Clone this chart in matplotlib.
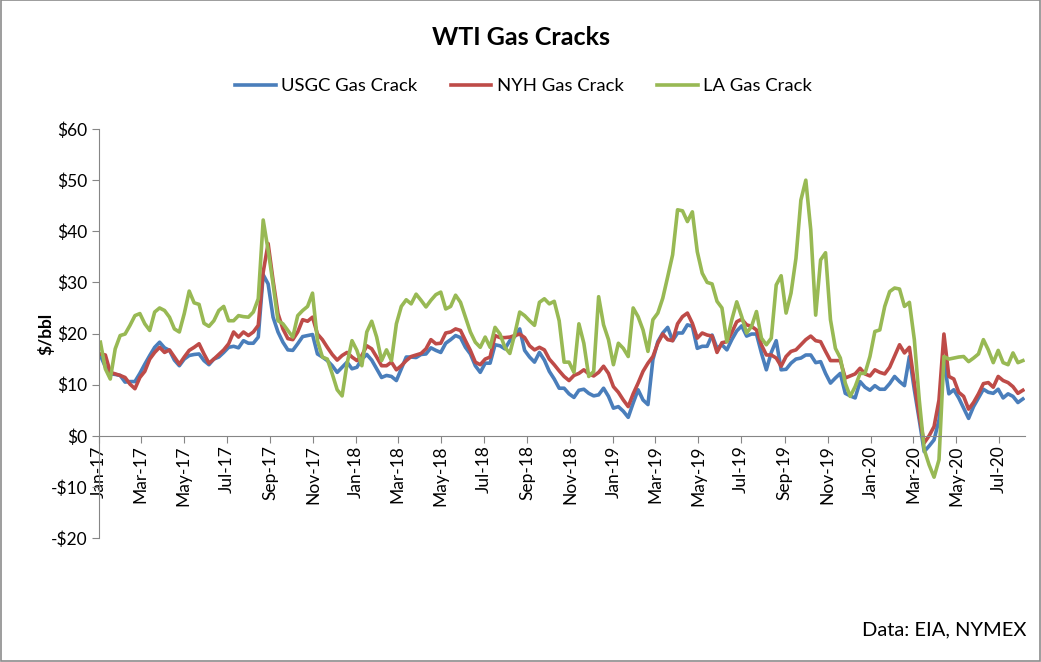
import matplotlib
matplotlib.use("Agg")
import matplotlib.pyplot as plt
import matplotlib.dates as mdates
import matplotlib.ticker as mticker
import pandas as pd

plt.rcParams['font.family'] = ['Lato', 'DejaVu Sans']

start_date = "2017-01-03"

usgc = [15.7, 13.5, 12.1, 12.0, 11.8, 10.5, 10.6, 10.6, 12.2, 14.0, 15.7, 17.3, 18.3, 17.2, 16.7, 14.8, 13.7, 15.0, 15.7, 15.9,
        16.0, 14.7, 13.9, 15.0, 15.4, 16.3, 17.3, 17.5, 17.2, 18.6, 18.1, 18.1, 19.3, 31.5,
        29.7, 23.2, 20.3, 18.3, 16.8, 16.7, 18.0, 19.4, 19.6, 19.8, 16.0, 15.4, 14.7, 13.7, 12.4, 13.4, 14.4, 13.1, 13.4, 15.0,
        15.9, 14.8, 13.1, 11.4, 11.8, 11.6, 10.8, 13.1, 15.4, 15.4, 15.3, 15.9, 16.0,
        17.2, 16.7, 16.3, 18.1, 18.8, 19.6, 19.2, 17.3, 16.0, 13.7, 12.4, 14.2, 14.2, 17.8, 17.6, 17.0, 18.6, 19.4, 20.9, 16.7,
        15.4, 14.4, 16.3, 14.8, 12.6, 11.1, 9.3, 9.3, 8.2, 7.5,
        8.9, 9.1, 8.3, 7.8, 8.0, 9.3, 7.7, 5.4, 5.7, 4.8, 3.6, 6.4, 9.0, 7.0, 6.1, 14.9, 18.4, 20.1, 21.2, 18.6, 20.1, 20.1,
        21.7, 21.4, 17.1, 17.5, 17.5, 19.7, 17.1, 17.8, 16.8, 18.8,
        20.5, 21.5, 19.5, 19.9, 19.9, 16.2, 12.9, 16.3, 18.6, 12.9, 13.0, 14.2, 15.0, 15.2, 15.8, 15.8, 14.3, 14.5, 12.2, 10.3,
        11.3, 12.2, 8.3, 7.8, 7.4, 10.6, 9.5, 8.9, 9.8,
        9.1, 9.1, 10.2, 11.6, 10.6, 9.8, 15.5, 9.0, 3.1, -3.1, -2.0, -0.8, 3.1, 14.9, 8.2, 9.0, 7.4, 5.4, 3.4, 5.7, 7.4, 9.1,
        8.5, 8.3, 9.1, 7.4, 8.2, 7.7, 6.5, 7.2]

nyh = [16.0, 15.8, 12.4, 12.1, 11.8, 11.4, 10.1, 9.2, 11.4, 12.6, 15.0, 16.3, 17.3, 16.3, 16.8, 15.4, 14.0, 15.4, 16.7, 17.3,
       18.0, 16.0, 14.2, 15.0, 15.9, 16.8, 18.0, 20.3, 19.3, 20.3, 19.6, 20.3, 21.6, 32.0,
       37.6, 30.4, 23.9, 20.9, 19.0, 18.8, 20.3, 22.7, 22.4, 23.2, 19.9, 18.8, 17.3, 15.9, 14.8, 15.7, 16.3, 15.4, 14.7, 15.7,
       17.6, 17.0, 15.4, 13.7, 13.7, 14.4, 12.9, 13.7, 14.7, 15.5, 15.8, 16.1, 17.0,
       18.8, 18.0, 18.1, 20.1, 20.3, 20.9, 20.6, 18.6, 16.7, 14.4, 13.9, 15.0, 15.4, 19.6, 19.2, 19.2, 19.3, 19.6, 19.9, 19.2,
       17.6, 16.8, 17.3, 16.8, 15.0, 13.9, 12.7, 11.6, 10.8, 11.8,
       12.2, 12.9, 12.1, 11.7, 12.4, 13.6, 12.2, 9.6, 8.5, 7.0, 5.7, 8.2, 10.3, 12.6, 14.2, 15.5, 18.1, 19.9, 18.8, 18.6,
       21.9, 23.3, 24.0, 22.0, 19.1, 20.1, 19.7, 19.5, 16.3, 18.2, 18.4, 20.2,
       22.3, 22.8, 21.7, 21.4, 20.7, 17.8, 15.8, 15.8, 15.2, 13.6, 15.5, 16.5, 16.8, 17.8, 18.8, 19.5, 18.6, 18.4, 16.5, 14.7,
       14.7, 14.7, 11.3, 11.7, 12.1, 13.2, 12.1, 11.7, 12.9,
       12.4, 12.1, 13.4, 15.6, 17.8, 16.2, 17.3, 10.3, 3.8, -1.4, 0.0, 1.8, 7.0, 19.9, 11.6, 11.1, 8.5, 7.7, 5.2, 6.5, 8.2,
       10.2, 10.4, 9.5, 11.6, 10.8, 10.4, 9.6, 8.3, 8.9]

la = [18.3, 13.1, 11.1, 17.0, 19.6, 19.9, 21.6, 23.5, 23.9, 21.9, 20.6, 24.2, 25.0, 24.5, 23.2, 20.9, 20.3, 23.9, 28.3, 26.0,
      25.7, 22.0, 21.4, 22.5, 24.5, 25.3, 22.5, 22.5, 23.5, 23.3, 23.2, 24.2, 26.8, 42.2,
      36.3, 29.7, 22.5, 21.9, 20.6, 19.3, 23.5, 24.5, 25.3, 27.9, 18.6, 15.4, 15.0, 12.1, 9.0, 7.8, 14.1, 18.6, 16.7, 13.7,
      20.3, 22.4, 19.3, 14.7, 16.8, 14.7, 21.9, 25.3, 26.6, 25.8, 27.7, 26.5, 25.2,
      26.5, 27.6, 28.1, 24.8, 25.3, 27.5, 26.1, 23.2, 20.3, 18.3, 17.3, 19.3, 17.3, 21.2, 19.9, 17.3, 16.1, 19.9, 24.2, 23.5,
      22.5, 21.6, 26.1, 26.8, 25.8, 26.3, 22.5, 14.4, 14.4, 12.4,
      21.9, 18.1, 11.6, 12.6, 27.2, 21.7, 18.8, 13.9, 18.1, 17.1, 15.5, 25.0, 23.3, 20.7, 16.5, 22.7, 24.0, 26.9, 31.1, 35.4,
      44.2, 44.0, 41.9, 43.8, 36.0, 31.8, 30.0, 29.7, 26.3, 25.0, 18.4, 22.7,
      26.2, 23.3, 20.1, 21.4, 24.3, 19.1, 17.8, 19.1, 29.5, 31.3, 24.0, 27.9, 34.7, 46.1, 50.0, 40.3, 23.6, 34.4, 35.8, 22.7,
      17.1, 15.2, 10.3, 7.7, 9.6, 12.2, 12.2, 15.5, 20.4,
      20.7, 25.3, 28.2, 28.9, 28.7, 25.3, 26.1, 18.8, 7.0, -2.7, -5.7, -8.1, -4.7, 15.5, 15.0, 15.2, 15.4, 15.5, 14.5, 15.2,
      16.0, 18.8, 16.8, 14.3, 16.7, 14.3, 13.9, 16.2, 14.3, 14.7]

series_names = ["USGC Gas Crack", "NYH Gas Crack", "LA Gas Crack"]
series_colors = ["#4A7EBB", "#BE4B48", "#98B954"]
y_ticks = [-20, -10, 0, 10, 20, 30, 40, 50, 60]

dates = pd.date_range(start=start_date, periods=len(usgc), freq="7D")

fig = plt.figure(figsize=(10.41, 6.62), dpi=100)
ax = fig.add_axes([0.0951, 0.1873, 0.8895, 0.6178])

for vals, name, col in zip([usgc, nyh, la], series_names, series_colors):
    ax.plot(dates, vals, color=col, lw=2.6, label=name, solid_joinstyle="round")

ax.set_ylim(-20, 60)
ax.set_yticks(y_ticks)
ax.yaxis.set_major_formatter(mticker.FuncFormatter(lambda v, p: ("-$%d" % abs(v)) if v < 0 else "$%d" % v))
ax.set_xlim(pd.Timestamp("2017-01-01"), dates[-1] + pd.Timedelta(days=3))

ax.xaxis.set_major_locator(mdates.MonthLocator(bymonth=[1, 3, 5, 7, 9, 11]))
ax.xaxis.set_major_formatter(mdates.DateFormatter("%b-%y"))

for s in ["top", "right"]:
    ax.spines[s].set_visible(False)
ax.spines["left"].set_color("#868686")
ax.spines["bottom"].set_color("#868686")
ax.spines["bottom"].set_position(("data", 0))

ax.tick_params(axis="y", colors="#868686", labelcolor="black", labelsize=12.5, length=5, direction="out")
ax.tick_params(axis="x", colors="#868686", labelcolor="black", labelsize=12.5, length=5, direction="out",
               labelrotation=90, pad=2)
for lbl in ax.get_xticklabels():
    lbl.set_verticalalignment("top")

ax.set_ylabel("$/bbl", fontsize=12.5, fontweight="bold")
ax.yaxis.set_label_coords(-0.0486, 0.5)

fig.text(0.5, 0.943, "WTI Gas Cracks", ha="center", va="center", fontsize=18, fontweight="bold")
fig.legend(loc="center", bbox_to_anchor=(0.503, 0.870), ncol=3, frameon=False, fontsize=13.3,
           handlelength=2.2, columnspacing=1.8, handletextpad=0.3)
fig.text(0.986, 0.048, "Data: EIA, NYMEX", ha="right", va="center", fontsize=14.5)

border = plt.Rectangle((0.0005, 0.0008), 0.999, 0.9985, transform=fig.transFigure, fill=False,
                       edgecolor="#8C8C8C", lw=1.2)
fig.patches.append(border)

fig.savefig("out.png", dpi=100)
